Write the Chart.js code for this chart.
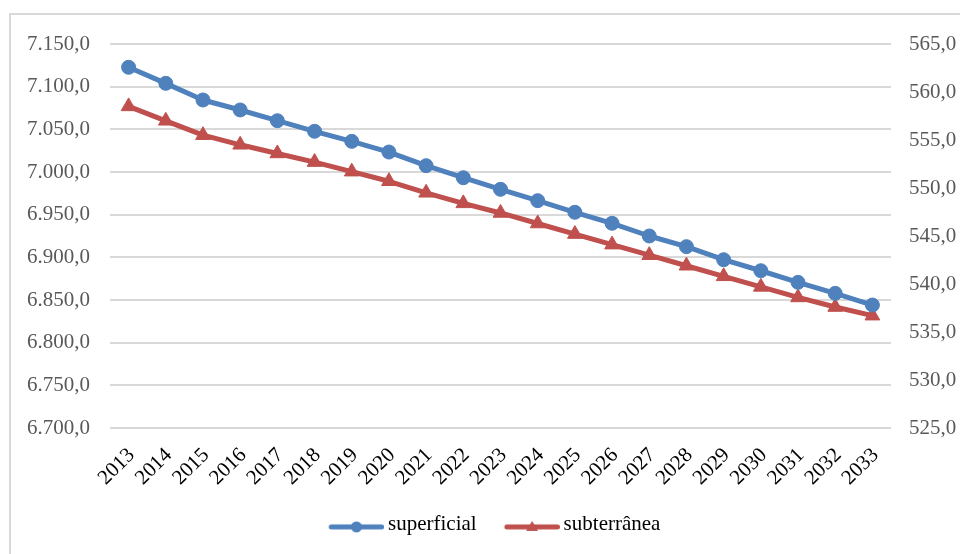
<!DOCTYPE html>
<html lang="pt-BR">
<head>
<meta charset="utf-8">
<script src="https://cdn.jsdelivr.net/npm/chart.js@4/dist/chart.umd.min.js"></script>
<style>
  html, body { margin: 0; padding: 0; background: #fff; overflow: hidden; }
  #wrap { position: relative; width: 960px; height: 554px; }
  /* moldura da área do gráfico (só bordas esquerda e superior aparecem) */
  #moldura { position: absolute; left: 9px; top: 13px; width: 1000px; height: 600px;
             border-left: 2px solid #d9d9d9; border-top: 2px solid #d9d9d9; }
  #grafico { position: absolute; left: 0; top: 0; }
</style>
</head>
<body>
<div id="wrap">
  <div id="moldura"></div>
  <canvas id="grafico" width="960" height="554"></canvas>
</div>
<script>
// ---------------------------------------------------------------------------
// Dados
// ---------------------------------------------------------------------------
const anos = ["2013", "2014", "2015", "2016", "2017", "2018", "2019", "2020", "2021", "2022", "2023",
              "2024", "2025", "2026", "2027", "2028", "2029", "2030", "2031", "2032", "2033"];

// eixo esquerdo
const superficial = [7122.7, 7103.9, 7084.4, 7072.7, 7060.1, 7047.7, 7035.9, 7023.4, 7007.4, 6993.3, 6979.7,
                     6966.4, 6952.8, 6939.9, 6925.0, 6912.5, 6897.2, 6884.3, 6870.7, 6857.8, 6844.1];

// eixo direito
const subterranea = [558.5, 557.0, 555.5, 554.5, 553.6, 552.7, 551.7, 550.7, 549.5, 548.4, 547.4,
                     546.3, 545.2, 544.1, 543.0, 541.9, 540.8, 539.7, 538.6, 537.6, 536.7];

const nomes = ["superficial", "subterrânea"];
const cores = ["#4f81bd", "#c0504d"];

// ---------------------------------------------------------------------------
// Helpers
// ---------------------------------------------------------------------------
const FONTE = "'Liberation Serif', 'Times New Roman', serif";

// 7150 -> "7.150,0"
function fmtBR(v) {
    const [inteiro, dec] = Number(v).toFixed(1).split(".");
    return inteiro.replace(/\B(?=(\d{3})+(?!\d))/g, ".") + "," + dec;
}

// símbolo da legenda: linha grossa com o marcador no meio
function simboloLegenda(cor, tipo) {
    const c = document.createElement("canvas");
    c.width = 62; c.height = 24;
    const g = c.getContext("2d");
    const y = 14, x0 = 9, x1 = 59.5, xm = (x0 + x1) / 2;
    g.strokeStyle = cor; g.fillStyle = cor;
    g.lineWidth = 5; g.lineCap = "round";
    g.beginPath(); g.moveTo(x0, y); g.lineTo(x1, y); g.stroke();
    g.beginPath();
    if (tipo === "circle") {
        g.arc(xm, y, 5.5, 0, Math.PI * 2);
    } else {
        g.moveTo(xm, y - 6); g.lineTo(xm + 6, y + 4); g.lineTo(xm - 6, y + 4); g.closePath();
    }
    g.fill();
    return c;
}
const simbolos = [simboloLegenda(cores[0], "circle"), simboloLegenda(cores[1], "triangle")];

// posição da legenda (início do primeiro item / meio do texto)
const LEGENDA_X = 329;
const LEGENDA_Y = 527;
const LEGENDA_PAD = 28;
const TAM = 21;

const posLegenda = {
    id: "posLegenda",
    afterLayout(chart) {
        const lg = chart.legend;
        if (!lg || !lg.lineWidths) return;
        const inicio = (lg.left + LEGENDA_PAD + lg.right - lg.lineWidths[0]) / 2;
        const dx = LEGENDA_X - inicio;
        lg.left += dx; lg.right += dx;
        const h = lg.height;
        lg.top = LEGENDA_Y - TAM * 1.2 / 2 - LEGENDA_PAD;
        lg.bottom = lg.top + h;
    }
};

// ---------------------------------------------------------------------------
// Gráfico
// ---------------------------------------------------------------------------
new Chart(document.getElementById("grafico"), {
    type: "line",
    data: {
        labels: anos,
        datasets: [{
            label: nomes[0],
            data: superficial,
            yAxisID: "y",
            borderColor: cores[0],
            backgroundColor: cores[0],
            borderWidth: 5,
            borderJoinStyle: "round",
            borderCapStyle: "round",
            pointStyle: "circle",
            pointRadius: 7,
            pointBorderWidth: 1,
            tension: 0,
        }, {
            label: nomes[1],
            data: subterranea,
            yAxisID: "y1",
            borderColor: cores[1],
            backgroundColor: cores[1],
            borderWidth: 5,
            borderJoinStyle: "round",
            borderCapStyle: "round",
            pointStyle: "triangle",
            pointRadius: 8.5,
            pointBorderWidth: 1,
            tension: 0,
        }],
    },
    options: {
        responsive: false,
        animation: false,
        layout: { padding: { top: 44, left: 0, right: 0, bottom: 0 } },
        plugins: {
            tooltip: { enabled: false },
            legend: {
                position: "bottom",
                labels: {
                    usePointStyle: true,
                    pointStyleWidth: 48.5,
                    padding: LEGENDA_PAD,
                    color: "#000",
                    font: { family: FONTE, size: TAM },
                    generateLabels(chart) {
                        const itens = Chart.defaults.plugins.legend.labels.generateLabels(chart);
                        itens.forEach((it, i) => { it.pointStyle = simbolos[i]; });
                        return itens;
                    },
                },
            },
        },
        scales: {
            x: {
                offset: true,
                grid: { display: false },
                border: { display: false },
                ticks: {
                    autoSkip: false,
                    minRotation: 45,
                    maxRotation: 45,
                    padding: 7,
                    labelOffset: 3,
                    color: "#000",
                    font: { family: FONTE, size: TAM },
                },
                afterFit(scale) {
                    scale.height = 554 - 428 - scale.chart.legend.height;
                },
            },
            y: {
                position: "left",
                min: 6700,
                max: 7150,
                grid: { color: "#d9d9d9", lineWidth: 2, drawTicks: false },
                border: { display: false },
                ticks: {
                    stepSize: 50,
                    padding: 20,
                    color: "#595959",
                    font: { family: FONTE, size: TAM },
                    callback: v => fmtBR(v),
                },
                afterFit(scale) { scale.width = 110; },
            },
            y1: {
                position: "right",
                min: 525,
                max: 565,
                grid: { display: false, drawTicks: false },
                border: { display: false },
                ticks: {
                    stepSize: 5,
                    padding: 18,
                    color: "#595959",
                    font: { family: FONTE, size: TAM },
                    callback: v => fmtBR(v),
                },
                afterFit(scale) { scale.width = 69; },
            },
        },
    },
    plugins: [posLegenda],
});
</script>
</body>
</html>
